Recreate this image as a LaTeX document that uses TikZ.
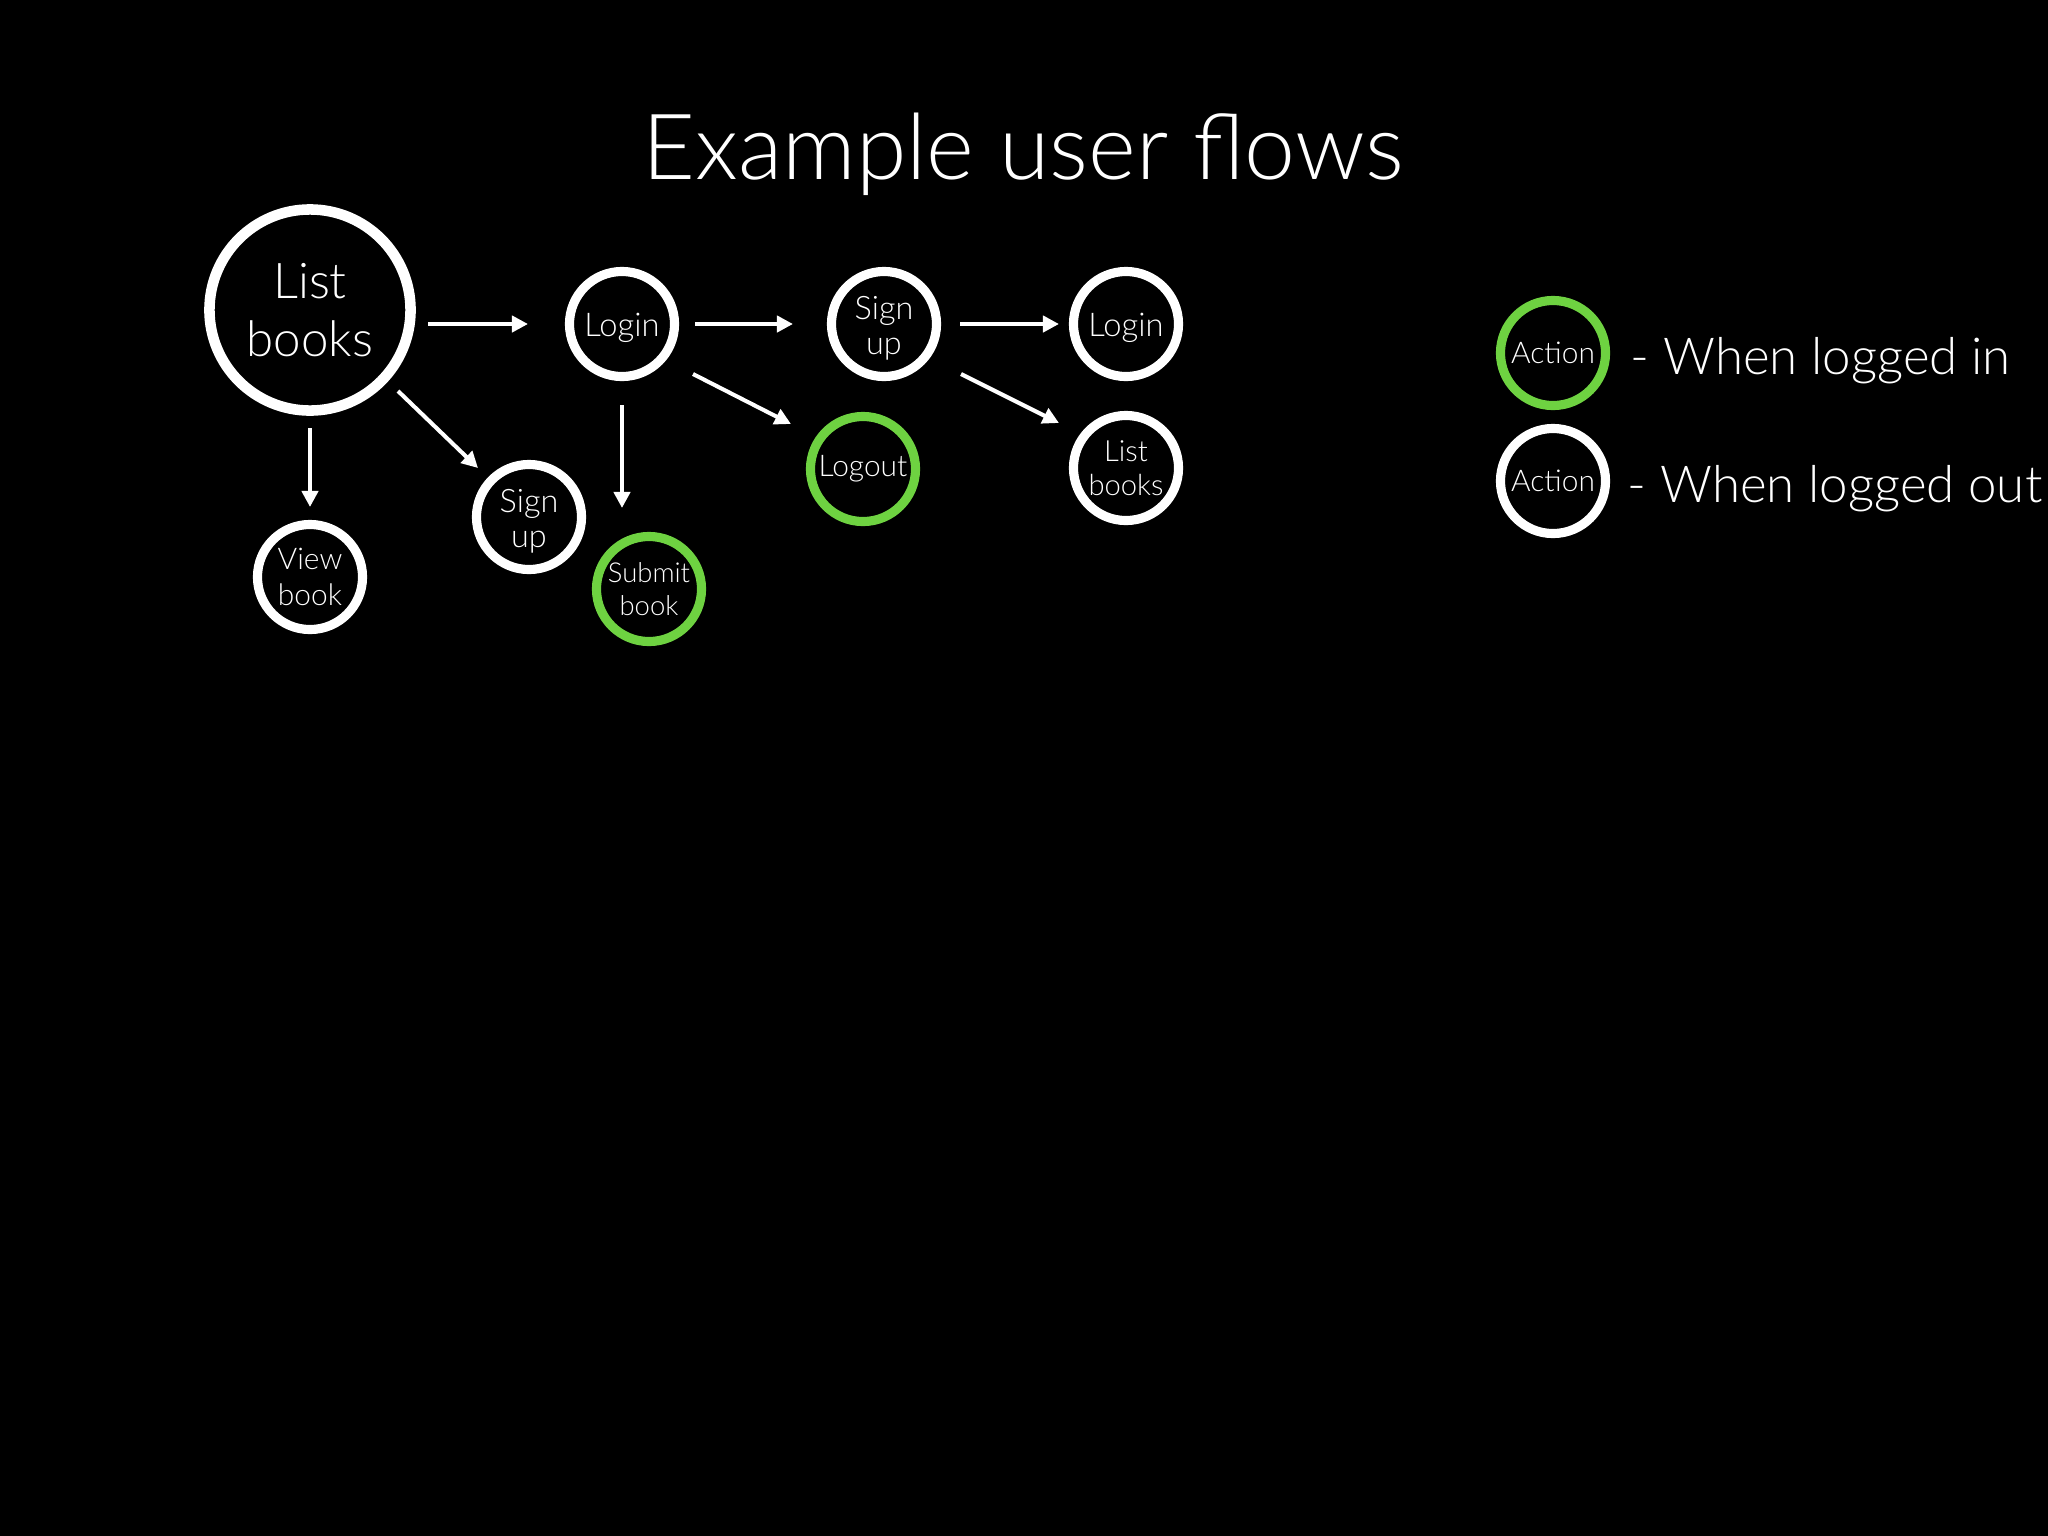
\documentclass[tikz,border=0pt]{standalone}
\usepackage{fontspec}
\setmainfont{Lato Light}
\usetikzlibrary{arrows.meta,calc}
\definecolor{okgreen}{RGB}{110,210,65}
\newcommand{\dnline}[1]{\raisebox{-1.1pt}[\height][\depth]{#1}}
\begin{document}
\begin{tikzpicture}[x=0.01cm,y=-0.01cm,
  act/.style={circle, draw=white, line width=2.6pt, minimum size=1.05cm, inner sep=0pt, text=white, align=center, font=\fontsize{8.5}{9.8}\selectfont},
  actin/.style={act, draw=okgreen},
  big/.style={act, line width=3pt, minimum size=2.01cm, font=\fontsize{14}{16.5}\selectfont},
  flow/.style={draw=white, line width=1.15pt, -{Triangle[length=4.6pt,width=4.6pt]}},
  lbl/.style={text=white, inner sep=0pt}]
\fill[black] (0,0) rectangle (2048,1536);
\useasboundingbox (0,0) rectangle (2048,1536);

\node[lbl, anchor=base, font=\fontsize{26}{30}\selectfont] (title) at (1023,179) {Example user flows};

\node[big] (lb) at (310,310) {List\\books};
\node[act, font=\fontsize{9.3}{10}\selectfont] (l1) at (622,324) {\dnline{Login}};
\node[act, font=\fontsize{9.2}{10}\selectfont] (s1) at (884,324) {\dnline{Sign}\\\dnline{up}};
\node[act, font=\fontsize{9.3}{10}\selectfont] (l2) at (1126,324) {\dnline{Login}};
\node[actin] (lo) at (863,469) {Logout};
\node[act, font=\fontsize{8.3}{9.7}\selectfont] (lb2) at (1126,468) {List\\books};
\node[act, font=\fontsize{8.5}{10.4}\selectfont] (vb) at (310,577) {View\\book};
\node[act, font=\fontsize{9.2}{10}\selectfont] (s2) at (529,517) {\dnline{Sign}\\\dnline{up}};
\node[actin, font=\fontsize{7.8}{9.3}\selectfont] (sb) at (649,589) {Submit\\book};

\draw[flow] ($(lb)+(118,14)$) -- ($(l1)+(-94,0)$);
\draw[flow] ($(l1)+(73,0)$) -- ($(s1)+(-91,0)$);
\draw[flow] ($(s1)+(76,0)$) -- ($(l2)+(-67,0)$);
\draw[flow] ($(l1)+(71,50)$) -- ($(lo)+(-72,-45)$);
\draw[flow] ($(s1)+(77,50)$) -- ($(lb2)+(-67,-45)$);
\draw[flow] ($(lb)+(0,118)$) -- ($(vb)+(0,-70)$);
\draw[flow] ($(lb)+(88,81)$) -- ($(s2)+(-51,-49)$);
\draw[flow] ($(l1)+(0,81)$) -- ($(sb)+(-27,-81)$);

\node[actin] (kin) at (1553,353) {Action};
\node[act] (kout) at (1553,481) {Action};
\node[lbl, anchor=base west, font=\fontsize{14.5}{18}\selectfont] (tin) at (1630,374) {- When logged in};
\node[lbl, anchor=base west, font=\fontsize{14.5}{18}\selectfont] (tout) at (1627,502) {- When logged out};
\end{tikzpicture}
\end{document}
